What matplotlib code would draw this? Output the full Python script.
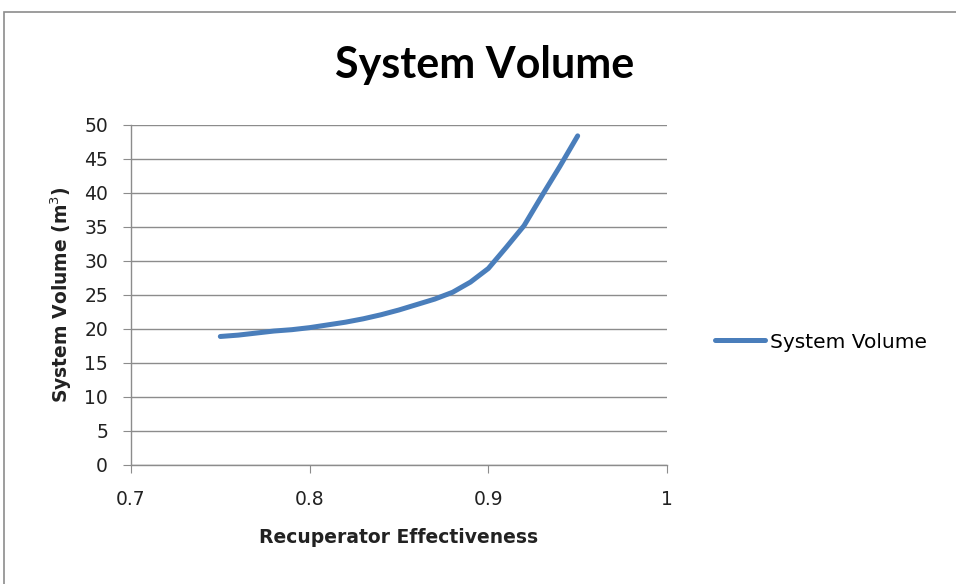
import numpy as np
import matplotlib
matplotlib.use("Agg")
import matplotlib.pyplot as plt
from matplotlib.patches import Rectangle

# data
effectiveness = [0.75, 0.76, 0.77, 0.78, 0.79, 0.80, 0.81, 0.82, 0.83, 0.84, 0.85,
                 0.86, 0.87, 0.88, 0.89, 0.90, 0.91, 0.92, 0.93, 0.94, 0.95]
volume = [18.9, 19.1, 19.4, 19.7, 19.9, 20.2, 20.6, 21.0, 21.5, 22.1, 22.8,
          23.6, 24.4, 25.4, 26.9, 28.9, 32.0, 35.2, 39.6, 43.9, 48.4]
x_ticks = [0.7, 0.8, 0.9, 1.0]
x_tick_labels = ["0.7", "0.8", "0.9", "1"]
y_ticks = list(range(0, 55, 5))

plt.rcParams['font.family'] = ['DejaVu Sans']

fig = plt.figure(figsize=(9.56, 5.84), dpi=100)
ax = fig.add_axes([131/956, 1-465/584, (667-131)/956, (465-125)/584])

# chart-area frame, as in the spreadsheet export
fig.patches.append(Rectangle((4/956, -0.1), 1.2, 1-12/584+0.1, transform=fig.transFigure,
                             fill=False, edgecolor='#8c8c8c', linewidth=1.2))

ax.plot(effectiveness, volume, color='#4A7EBB', linewidth=3.6,
        solid_capstyle='round', solid_joinstyle='round', label='System Volume')

ax.set_xlim(0.7, 1.0)
ax.set_ylim(0, 50)
ax.set_xticks(x_ticks)
ax.set_xticklabels(x_tick_labels)
ax.set_yticks(y_ticks)
ax.yaxis.grid(True, color='#8c8c8c', linewidth=1.0)
ax.set_axisbelow(True)

for side in ['top', 'right']:
    ax.spines[side].set_visible(False)
for side in ['left', 'bottom']:
    ax.spines[side].set_color('#8c8c8c')
    ax.spines[side].set_linewidth(1.0)
ax.tick_params(axis='both', direction='out', length=6, color='#8c8c8c',
               labelsize=13.5, labelcolor='#222222')
ax.tick_params(axis='y', pad=10.5)
ax.tick_params(axis='x', pad=12)

fig.text(485/956, 1-78/584, 'System Volume', family='Lato', fontsize=31,
         fontweight='bold', ha='center', va='baseline')
ax.set_xlabel('Recuperator Effectiveness', fontsize=13.5, fontweight='bold',
              labelpad=14, color='#222222')
ax.set_ylabel('System Volume (m$^3$)', fontsize=13.5, fontweight='bold',
              labelpad=7, color='#222222')

ax.legend(loc='center left', bbox_to_anchor=(715/956, 1-342/584),
          bbox_transform=fig.transFigure, frameon=False, borderpad=0,
          borderaxespad=0, fontsize=14.5, handlelength=2.5, handletextpad=0.25)

fig.savefig('out.png', dpi=100)
